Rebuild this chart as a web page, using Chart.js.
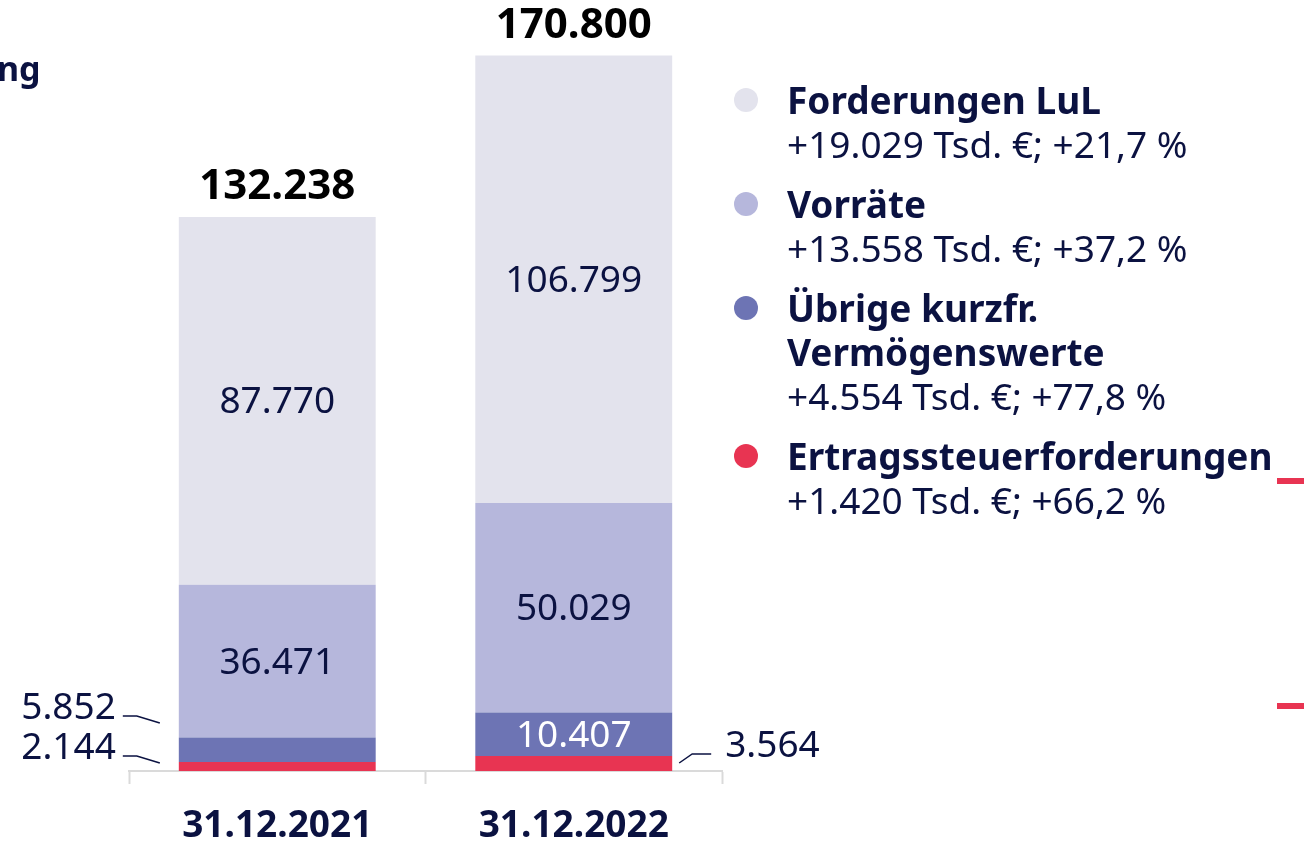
<!DOCTYPE html>
<html lang="de">
<head>
<meta charset="utf-8">
<title>Kurzfristige Vermögenswerte</title>
<script src="https://cdn.jsdelivr.net/npm/chart.js@4.4.0/dist/chart.umd.min.js"></script>
<style>
  html, body { margin: 0; padding: 0; background: #fff; }
  body {
    width: 1304px; height: 842px; position: relative; overflow: hidden;
    font-family: 'Noto Sans', sans-serif; color: #0b1241;
  }
  #chart { position: absolute; left: 0; top: 0; }
  .cut-title { position: absolute; left: -3px; top: 46px; font-size: 34px; font-weight: 700; line-height: 44px; }
  .legend-dot { position: absolute; left: 734px; width: 24px; height: 24px; border-radius: 50%; }
  .legend-line { position: absolute; left: 787px; white-space: nowrap; line-height: 44px; }
  .legend-line.head { font-size: 37px; font-weight: 700; }
  .legend-line.sub { font-size: 37px; font-weight: 400; }
  .dash { position: absolute; left: 1277px; width: 27px; height: 6px; background: #e83452; }
</style>
</head>
<body>
<canvas id="chart" width="1304" height="842"></canvas>
<div class="cut-title">ng</div>
<div id="legend"></div>
<div class="dash" style="top:478px"></div>
<div class="dash" style="top:703px"></div>

<script>
const categories = ['31.12.2021', '31.12.2022'];
const forderungen = [87770, 106799];
const vorraete = [36471, 50029];
const uebrige = [5852, 10407];
const ertrag = [2144, 3564];
const totals = [132238, 170800];

const seriesNames = ['Forderungen LuL', 'Vorräte', 'Übrige kurzfr.\nVermögenswerte', 'Ertragssteuerforderungen'];
const changeTexts = ['+19.029 Tsd. €; +21,7 %', '+13.558 Tsd. €; +37,2 %', '+4.554 Tsd. €; +77,8 %', '+1.420 Tsd. €; +66,2 %'];
const colors = ['#e3e3ed', '#b6b7dc', '#6d74b4', '#e83452'];

const TEXT = '#0b1241';
const FONT = "'Noto Sans', sans-serif";

const fmt = v => v.toLocaleString('de-DE');

// legend on the right
function buildLegend() {
  const legend = document.getElementById('legend');
  let y = 100;
  seriesNames.forEach((name, i) => {
    const dot = document.createElement('div');
    dot.className = 'legend-dot';
    dot.style.background = colors[i];
    dot.style.top = (y - 12) + 'px';
    legend.appendChild(dot);
    name.split('\n').forEach(part => {
      const el = document.createElement('div');
      el.className = 'legend-line head';
      el.style.top = (y - 22) + 'px';
      el.textContent = part;
      legend.appendChild(el);
      y += 44;
    });
    const sub = document.createElement('div');
    sub.className = 'legend-line sub';
    sub.style.top = (y - 22) + 'px';
    sub.textContent = changeTexts[i];
    legend.appendChild(sub);
    y += 60;
  });
}

// value labels, leader lines and totals
const labelPlugin = {
  id: 'barLabels',
  afterDatasetsDraw(chart) {
    const ctx = chart.ctx;
    const base = chart.scales.y.getPixelForValue(0);
    ctx.save();
    ctx.textBaseline = 'middle';
    chart.data.datasets.forEach((ds, di) => {
      const meta = chart.getDatasetMeta(di);
      meta.data.forEach((bar, i) => {
        const txt = fmt(ds.data[i]);
        const left = bar.x - bar.width / 2;
        const right = bar.x + bar.width / 2;
        const h = Math.abs(bar.base - bar.y);
        ctx.font = `400 37px ${FONT}`;
        if (h > 40) {
          ctx.fillStyle = ds.labelColor || TEXT;
          ctx.textAlign = 'center';
          ctx.fillText(txt, bar.x, (bar.y + bar.base) / 2 + 2);
          return;
        }
        ctx.strokeStyle = TEXT;
        ctx.lineWidth = 1.5;
        ctx.fillStyle = TEXT;
        if (i === 0) {
          // labels to the left of the first bar
          const off = ds.key === 'uebrige' ? 48 : 8;
          const textOff = ds.key === 'uebrige' ? 63 : 23;
          ctx.beginPath();
          ctx.moveTo(left - 56, base - off - 7);
          ctx.lineTo(left - 42, base - off - 7);
          ctx.lineTo(left - 19, base - off);
          ctx.stroke();
          ctx.textAlign = 'right';
          ctx.fillText(txt, left - 63, base - textOff);
        } else {
          ctx.beginPath();
          ctx.moveTo(right + 7, base - 8);
          ctx.lineTo(right + 20, base - 17);
          ctx.lineTo(right + 39, base - 17);
          ctx.stroke();
          ctx.textAlign = 'left';
          ctx.fillText(txt, right + 53, base - 25);
        }
      });
    });
    // totals on top
    const topMeta = chart.getDatasetMeta(chart.data.datasets.length - 1);
    ctx.font = `700 42px ${FONT}`;
    ctx.fillStyle = '#000';
    ctx.textAlign = 'center';
    topMeta.data.forEach((bar, i) => {
      ctx.fillText(fmt(totals[i]), bar.x, bar.y - 30);
    });
    ctx.restore();
  }
};

buildLegend();

new Chart(document.getElementById('chart'), {
  type: 'bar',
  data: {
    labels: categories,
    datasets: [
      { key: 'ertrag', label: 'Ertragssteuerforderungen', data: ertrag, backgroundColor: colors[3] },
      { key: 'uebrige', label: 'Übrige kurzfr. Vermögenswerte', data: uebrige, backgroundColor: colors[2], labelColor: '#ffffff' },
      { key: 'vorraete', label: 'Vorräte', data: vorraete, backgroundColor: colors[1] },
      { key: 'forderungen', label: 'Forderungen LuL', data: forderungen, backgroundColor: colors[0] }
    ]
  },
  options: {
    responsive: false,
    devicePixelRatio: 1,
    animation: false,
    layout: { padding: { left: 129, right: 582, top: 17, bottom: 0 } },
    datasets: { bar: { barPercentage: 0.664, categoryPercentage: 1, borderWidth: 0 } },
    plugins: { legend: { display: false }, tooltip: { enabled: false } },
    scales: {
      x: {
        stacked: true,
        offset: true,
        afterFit: scale => { scale.height = 71; },
        grid: { display: true, drawOnChartArea: false, offset: true, tickLength: 13, tickColor: '#dadada', tickWidth: 2, color: '#dadada' },
        border: { color: '#dadada', width: 2 },
        ticks: { color: TEXT, padding: 20, font: { family: FONT, size: 37, weight: 'bold' } }
      },
      y: { stacked: true, display: false, min: 0, max: 180000 }
    }
  },
  plugins: [labelPlugin]
});
</script>
</body>
</html>
